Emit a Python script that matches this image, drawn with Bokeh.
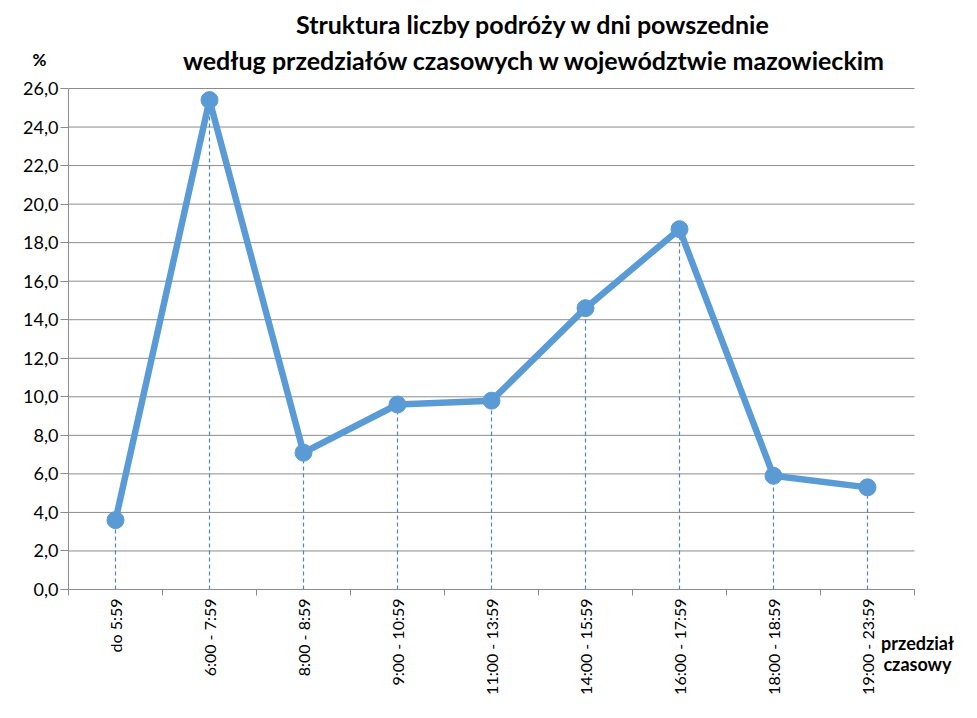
from bokeh.plotting import figure
from bokeh.models import FixedTicker, Label, Range1d, LinearAxis
from bokeh.embed import file_html
from bokeh.resources import INLINE
import math

categories = ["do 5:59", "6:00 - 7:59", "8:00 - 8:59", "9:00 - 10:59", "11:00 - 13:59",
              "14:00 - 15:59", "16:00 - 17:59", "18:00 - 18:59", "19:00 - 23:59"]
values = [3.6, 25.4, 7.1, 9.6, 9.8, 14.6, 18.7, 5.9, 5.3]
y_ticks = [0, 2, 4, 6, 8, 10, 12, 14, 16, 18, 20, 22, 24, 26]
title_line1 = "Struktura liczby podróży w dni powszednie"
title_line2 = "według przedziałów czasowych w województwie mazowieckim"
y_unit = "%"
x_name = ["przedział", "czasowy"]

FONT = "Lato"
BLUE = "#5B9BD5"
GRID = "#8C8C8C"
W, H = 961, 702
# plot-area placement on the canvas (pixels)
PL, PR, PT, PB = 68, 914, 88, 589
n = len(categories)
ymax = y_ticks[-1]
xpx = (PR - PL) / n
ypx = (PB - PT) / ymax
x_start = -PL / xpx
x_end = n + (W - PR) / xpx
y_start = -(H - PB) / ypx
y_end = ymax + PT / ypx

xs = [i + 0.5 for i in range(n)]

p = figure(width=W, height=H, output_backend="svg", toolbar_location=None,
           x_range=Range1d(x_start, x_end), y_range=Range1d(y_start, y_end),
           x_axis_location=None, y_axis_location=None, min_border=0)
p.outline_line_color = None
p.background_fill_color = "white"
p.border_fill_color = "white"
p.xgrid.visible = False
p.ygrid.visible = False

# horizontal gridlines at the y ticks, across the category span
p.segment(x0=[0] * len(y_ticks), x1=[n] * len(y_ticks), y0=y_ticks, y1=y_ticks,
          line_color=GRID, line_width=1)

# y axis
yaxis = LinearAxis(fixed_location=0, bounds=(0, ymax), ticker=FixedTicker(ticks=y_ticks))
yaxis.major_label_overrides = {t: f"{t:.1f}".replace(".", ",") for t in y_ticks}
yaxis.axis_line_color = GRID
yaxis.major_tick_line_color = GRID
yaxis.major_tick_out = 8
yaxis.major_tick_in = 0
yaxis.minor_tick_line_color = None
yaxis.major_label_text_font = FONT
yaxis.major_label_text_font_size = "18px"
yaxis.major_label_text_color = "#000000"
yaxis.major_label_standoff = 2
p.add_layout(yaxis, "left")

# x axis
xaxis = LinearAxis(fixed_location=0, bounds=(0, n),
                   ticker=FixedTicker(ticks=xs, minor_ticks=list(range(n + 1))))
xaxis.major_label_overrides = {x: c for x, c in zip(xs, categories)}
xaxis.major_label_orientation = math.pi / 2
xaxis.axis_line_color = GRID
xaxis.major_tick_line_color = None
xaxis.minor_tick_line_color = GRID
xaxis.minor_tick_out = 6
xaxis.minor_tick_in = 0
xaxis.major_label_text_font = FONT
xaxis.major_label_text_font_size = "16px"
xaxis.major_label_text_color = "#000000"
xaxis.major_label_standoff = 3
p.add_layout(xaxis, "below")

# drop lines
p.segment(x0=xs, y0=[0] * n, x1=xs, y1=values, line_color="#4A86D0",
          line_width=1.2, line_dash="4 3")
# series
p.line(xs, values, line_color=BLUE, line_width=6.5, line_join="round")
p.scatter(xs, values, size=17, fill_color=BLUE, line_color=BLUE)

def lab(x, y, text, size, align="center"):
    p.add_layout(Label(x=x, y=y, x_units="screen", y_units="screen", text=text,
                       text_font=FONT, text_font_size=size, text_font_style="bold",
                       text_align=align, text_baseline="middle", text_color="#000000"))

lab(533, H - 23, title_line1, "25px")
lab(534, H - 59, title_line2, "25px")
lab(39, H - 59, y_unit, "17px")
lab(917, H - 642, x_name[0], "18px")
lab(917, H - 663, x_name[1], "18px")

open("out.html", "w").write(file_html(p, INLINE))
